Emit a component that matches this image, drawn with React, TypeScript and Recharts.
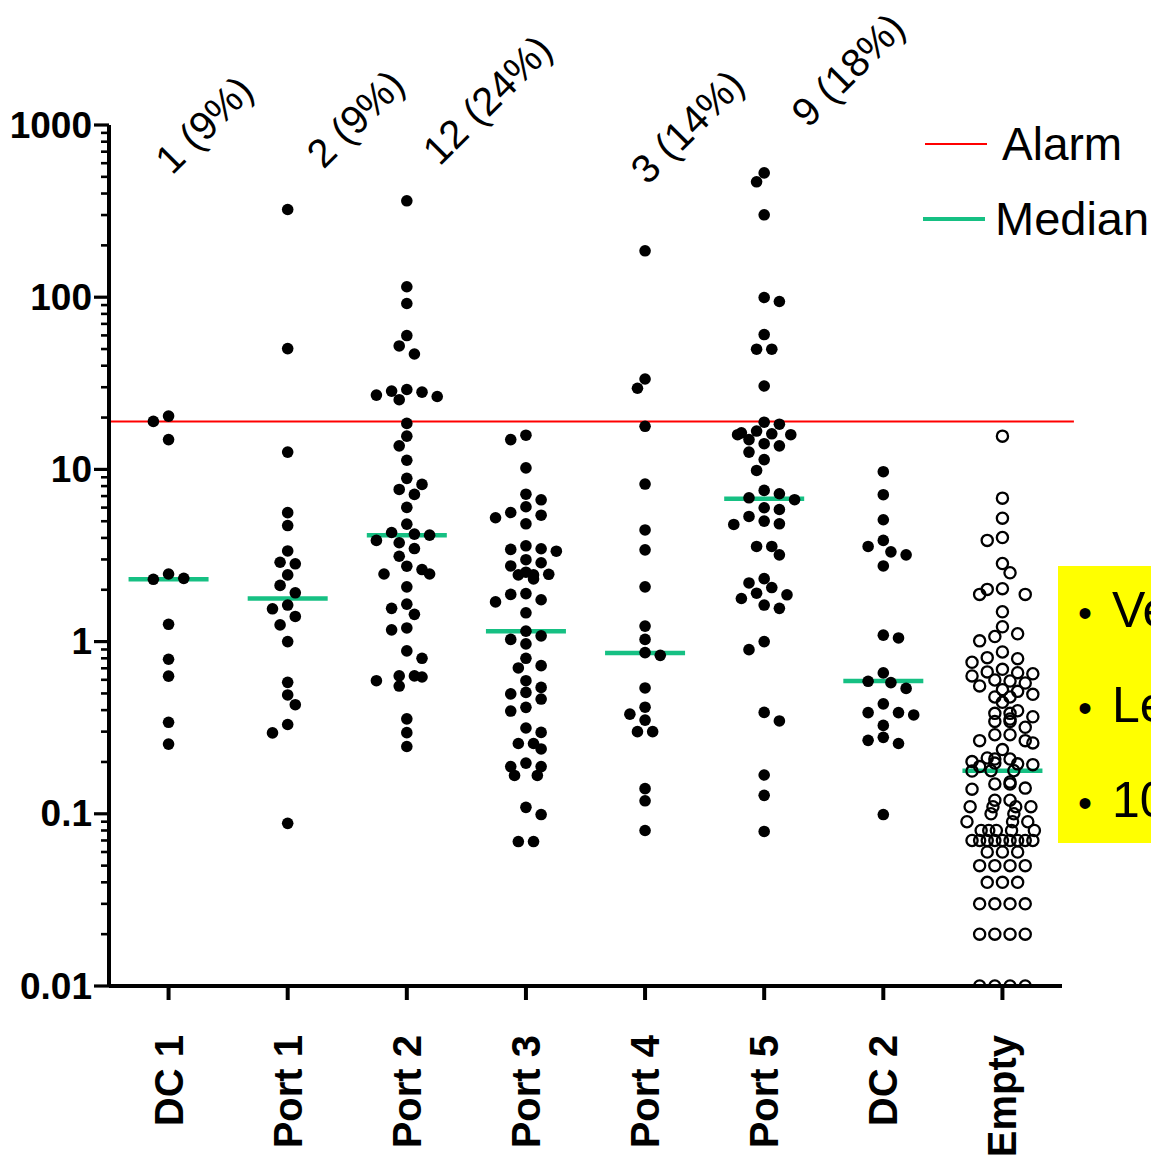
import React from 'react';
import { ScatterChart, Scatter, XAxis, YAxis, ReferenceLine, ReferenceDot, Legend } from 'recharts';

// ---------------- data ----------------
const categories = ['DC 1', 'Port 1', 'Port 2', 'Port 3', 'Port 4', 'Port 5', 'DC 2', 'Empty'];

const dc1 = [20.4, 19.0, 14.9, 2.47, 2.33, 2.30, 1.26, 0.79, 0.63, 0.34, 0.254];
const port1 = [323, 50.3, 12.6, 5.61, 4.72, 3.36, 2.89, 2.83, 2.44, 2.12, 1.92, 1.63, 1.55, 1.40, 1.25, 1.0,
  0.58, 0.49, 0.43, 0.33, 0.295, 0.088];
const port2 = [363, 115, 91.9, 59.9, 52.1, 46.8, 29.1, 28.5, 28.1, 27.0, 26.5, 25.4, 18.5, 15.6, 13.7, 11.3,
  8.87, 8.18, 7.65, 7.16, 6.02, 4.81, 4.30, 4.21, 4.15, 3.87, 3.75, 3.47, 3.13, 2.74, 2.62, 2.47, 2.47,
  2.08, 1.65, 1.56, 1.44, 1.20, 1.17, 0.883, 0.80, 0.632, 0.632, 0.623, 0.593, 0.552, 0.356, 0.296, 0.246];
const port3 = [15.8, 14.9, 10.2, 7.18, 6.66, 6.07, 5.62, 5.42, 5.24, 4.83, 3.60, 3.46, 3.43, 3.35, 2.99, 2.87,
  2.75, 2.53, 2.46, 2.44, 2.44, 2.31, 1.90, 1.88, 1.75, 1.70, 1.47, 1.15, 1.08, 1.03, 0.97, 0.80, 0.725,
  0.703, 0.593, 0.542, 0.507, 0.497, 0.464, 0.415, 0.395, 0.315, 0.297, 0.256, 0.256, 0.238, 0.197, 0.188,
  0.188, 0.167, 0.167, 0.109, 0.099, 0.069, 0.069];
const port4 = [186, 33.5, 29.6, 17.8, 8.22, 4.45, 3.41, 2.08, 1.23, 1.03, 0.863, 0.832, 0.538, 0.416, 0.379,
  0.350, 0.300, 0.300, 0.140, 0.119, 0.080];
const port5 = [527, 468, 301, 99.6, 94.4, 60.7, 49.9, 49.9, 30.5, 18.8, 18.3, 16.7, 16.3, 16.1, 15.9, 15.9,
  14.9, 14.1, 13.7, 12.6, 11.4, 9.86, 7.55, 7.22, 6.84, 6.67, 5.99, 5.85, 5.33, 5.01, 4.83, 4.79, 3.57,
  3.57, 3.19, 2.32, 2.19, 2.06, 1.91, 1.87, 1.78, 1.63, 1.56, 1.0, 0.898, 0.388, 0.346, 0.168, 0.128, 0.079];
const dc2 = [9.70, 7.13, 5.10, 3.87, 3.57, 3.32, 3.19, 2.75, 1.09, 1.05, 0.658, 0.588, 0.578, 0.535, 0.435,
  0.387, 0.387, 0.375, 0.326, 0.278, 0.267, 0.256, 0.099];
const empty = [15.6, 6.81, 5.21, 4.02, 3.87, 2.84, 2.51, 2.03, 2.01, 1.88, 1.88, 1.49, 1.22, 1.11, 1.07, 1.01,
  0.871, 0.807, 0.796, 0.758,
  0.69, 0.667, 0.66, 0.65, 0.632, 0.599, 0.59, 0.575, 0.553, 0.526, 0.514, 0.494, 0.477, 0.477, 0.444,
  0.397, 0.383, 0.383, 0.366, 0.355, 0.344, 0.344, 0.318, 0.288, 0.288, 0.266, 0.266, 0.258, 0.236,
  0.211, 0.208, 0.208, 0.201, 0.197, 0.195, 0.193, 0.188, 0.178, 0.178, 0.177,
  0.153, 0.149, 0.149, 0.141, 0.139,
  0.12, 0.12, 0.11, 0.11, 0.11, 0.11, 0.10, 0.10,
  0.09, 0.09, 0.09, 0.08, 0.08, 0.08, 0.08, 0.08,
  0.07, 0.07, 0.07, 0.07, 0.07, 0.07, 0.07, 0.07, 0.07,
  0.06, 0.06, 0.06, 0.05, 0.05, 0.05, 0.05, 0.04, 0.04, 0.04,
  0.03, 0.03, 0.03, 0.03, 0.02, 0.02, 0.02, 0.02, 0.01, 0.01, 0.01, 0.01];

const seriesValues = [dc1, port1, port2, port3, port4, port5, dc2, empty];
const medians = [2.3, 1.78, 4.15, 1.15, 0.86, 6.76, 0.59, 0.178];
const alarmLevel = 19;
const exceedLabels = ['1 (9%)', '2 (9%)', '12 (24%)', '', '3 (14%)', '9 (18%)', '', ''];
const yMajorTicks = [0.01, 0.1, 1, 10, 100, 1000];
const yTickLabels = ['0.01', '0.1', '1', '10', '100', '1000'];
const legendNames = ['Alarm', 'Median'];
const noteLines = ['Ve', 'Le', '10'];

// ---------------- layout ----------------
const CHART_W = 1151;
const CHART_H = 1162;
const MARGIN = { top: 125, right: 89, bottom: 0, left: 0 };
const Y_AXIS_W = 109;
const X_AXIS_H = 176;
const X_DOMAIN: [number, number] = [-0.5, 7.5];
const Y_DOMAIN: [number, number] = [0.01, 1000];
const PLOT_TOP = MARGIN.top;
const PLOT_BOTTOM = CHART_H - MARGIN.bottom - X_AXIS_H;
const PLOT_LEFT = MARGIN.left + Y_AXIS_W;
const PLOT_RIGHT = CHART_W - MARGIN.right;
const PX_PER_CAT = (PLOT_RIGHT - PLOT_LEFT) / (X_DOMAIN[1] - X_DOMAIN[0]);
const FONT = '"Liberation Sans", Arial, Helvetica, sans-serif';

// annotation anchors (category offset, value position on the log axis)
const annotationPos = [
  { dx: 0.03, y: 505 }, { dx: 0.3, y: 547 }, { dx: 0.275, y: 571 }, null,
  { dx: 0.02, y: 443 }, { dx: 0.37, y: 948 }, null, null,
];

const valueToPx = (v: number) => {
  const l1 = Math.log10(Y_DOMAIN[1]);
  const l0 = Math.log10(Y_DOMAIN[0]);
  return PLOT_TOP + ((l1 - Math.log10(v)) / (l1 - l0)) * (PLOT_BOTTOM - PLOT_TOP);
};

// beeswarm layout: greedy placement on a fixed horizontal step grid
function swarmOffsets(values: number[]): number[] {
  const STEP = 7.6;
  const DIST = 11.6;
  const MAXK = 4;
  const order = values.map((_, i) => i).sort((a, b) => values[b] - values[a]);
  const placed: { x: number; y: number }[] = [];
  const ks = new Array(values.length).fill(0);
  let flip = false;
  for (const i of order) {
    const y = valueToPx(values[i]);
    const clearance = (k: number) => {
      let m = Infinity;
      for (const p of placed) {
        const d = Math.hypot(k * STEP - p.x, y - p.y);
        if (d < m) m = d;
      }
      return m;
    };
    let chosen: number | null = null;
    for (let a = 0; a <= MAXK && chosen === null; a++) {
      const cands = a === 0 ? [0] : flip ? [a, -a] : [-a, a];
      const ok = cands.filter((k) => clearance(k) >= DIST);
      if (ok.length === 1) chosen = ok[0];
      else if (ok.length === 2) chosen = clearance(ok[0]) >= clearance(ok[1]) - 0.01 ? ok[0] : ok[1];
      if (chosen !== null && a > 0) flip = !flip;
    }
    if (chosen === null) {
      let best = 0;
      let bestC = -1;
      for (let k = -MAXK; k <= MAXK; k++) {
        const c = clearance(k);
        if (c > bestC + 0.01) { bestC = c; best = k; }
      }
      chosen = best;
    }
    placed.push({ x: chosen * STEP, y });
    ks[i] = chosen;
  }
  // centre groups of identical values so that tied rows sit symmetrically
  const groups = new Map<number, number[]>();
  values.forEach((v, i) => {
    const g = groups.get(v) ?? [];
    g.push(i);
    groups.set(v, g);
  });
  groups.forEach((idxs) => {
    if (idxs.length < 2) return;
    const mean = idxs.reduce((s, i) => s + ks[i], 0) / idxs.length;
    idxs.forEach((i) => { ks[i] -= mean; });
  });
  return ks.map((k) => (k * STEP) / PX_PER_CAT);
}

const seriesData = seriesValues.map((vals, ci) => {
  const offs = swarmOffsets(vals);
  return vals.map((v, j) => ({ x: ci + offs[j], y: v }));
});
const medianData = medians.map((m, i) => ({ x: i, y: m }));

const yAllTicks: number[] = [];
yMajorTicks.forEach((t, i) => {
  if (i === yMajorTicks.length - 1) { yAllTicks.push(t); return; }
  for (let k = 1; k <= 9; k++) yAllTicks.push(+(t * k).toPrecision(6));
});

// ---------------- renderers ----------------
const YTick = (props: any) => {
  const { x, y, payload } = props;
  const v = payload.value;
  const idx = yMajorTicks.findIndex((t) => Math.abs(Math.log10(t) - Math.log10(v)) < 1e-6);
  const major = idx >= 0;
  return (
    <g>
      <line x1={x - (major ? 15 : 8)} x2={x} y1={y} y2={y} stroke="#000" strokeWidth={major ? 3.2 : 2.6} />
      {major && (
        <text x={x - 17} y={y} textAnchor="end" dominantBaseline="central" fontSize={37}
          fontWeight="bold" fontFamily={FONT} fill="#000">
          {yTickLabels[idx]}
        </text>
      )}
    </g>
  );
};

const XTick = (props: any) => {
  const { x, y, payload } = props;
  const label = categories[payload.value] ?? '';
  const ty = y + 49;
  return (
    <g>
      <line x1={x} x2={x} y1={y} y2={y + 14} stroke="#000" strokeWidth={4} />
      <text x={x} y={ty} transform={`rotate(-90 ${x} ${ty})`} textAnchor="end" dominantBaseline="central"
        fontSize={40} fontWeight="bold" fontFamily={FONT} fill="#000">
        {label}
      </text>
    </g>
  );
};

const FilledDot = (p: any) => <circle cx={p.cx} cy={p.cy} r={5.8} fill="#000" />;
const OpenDot = (p: any) => <circle cx={p.cx} cy={p.cy} r={5.6} fill="none" stroke="#000" strokeWidth={2.3} />;
const MedianBar = (p: any) => (
  <line x1={p.cx - 40} x2={p.cx + 40} y1={p.cy} y2={p.cy} stroke="#16c083" strokeWidth={4.5} />
);

const LegendContent = () => (
  <div style={{ fontFamily: FONT, color: '#000' }}>
    <div style={{ position: 'relative', height: 75 }}>
      <div style={{ position: 'absolute', left: 0, top: 27, width: 62, height: 2, background: '#ff0000' }} />
      <div style={{ position: 'absolute', left: 77, top: 0, fontSize: 46, lineHeight: '56px' }}>{legendNames[0]}</div>
    </div>
    <div style={{ position: 'relative', height: 75 }}>
      <div style={{ position: 'absolute', left: -2, top: 26, width: 62, height: 4, background: '#16c083' }} />
      <div style={{ position: 'absolute', left: 70, top: 0, fontSize: 47, lineHeight: '56px' }}>{legendNames[1]}</div>
    </div>
  </div>
);

export default function App() {
  return (
    <div style={{ position: 'absolute', left: 0, top: 0, width: CHART_W, height: CHART_H, overflow: 'hidden', background: '#fff' }}>
      <ScatterChart width={CHART_W} height={CHART_H} margin={MARGIN}>
        <XAxis type="number" dataKey="x" domain={X_DOMAIN} ticks={[0, 1, 2, 3, 4, 5, 6, 7]} interval={0}
          height={X_AXIS_H} tick={<XTick />} tickLine={false} tickSize={0} tickMargin={0}
          axisLine={{ stroke: '#000', strokeWidth: 4 }} allowDataOverflow />
        <YAxis type="number" dataKey="y" scale="log" domain={Y_DOMAIN} ticks={yAllTicks} interval={0}
          width={Y_AXIS_W} tick={<YTick />} tickLine={false} tickSize={0} tickMargin={0}
          axisLine={{ stroke: '#000', strokeWidth: 4 }} allowDataOverflow />
        <Legend layout="vertical" align="center" verticalAlign="middle" content={<LegendContent />}
          wrapperStyle={{ position: 'absolute', left: 925, top: 116, width: 226 }} />
        <Scatter name="Median" data={medianData} shape={<MedianBar />} isAnimationActive={false} />
        {seriesData.map((d, i) => (
          <Scatter key={categories[i]} name={categories[i]} data={d}
            shape={i === 7 ? <OpenDot /> : <FilledDot />} isAnimationActive={false} />
        ))}
        <ReferenceLine segment={[{ x: X_DOMAIN[0], y: alarmLevel }, { x: 7.6, y: alarmLevel }]}
          stroke="#ff0000" strokeWidth={2} ifOverflow="visible" />
        {exceedLabels.map((t, i) => {
          const a = annotationPos[i];
          if (!t || !a) return null;
          return (
            <ReferenceDot key={'ann' + i} x={i + a.dx} y={a.y} r={0} ifOverflow="visible"
              shape={(p: any) => (
                <text x={p.cx} y={p.cy} transform={`rotate(-45 ${p.cx} ${p.cy})`} fontSize={40}
                  fontFamily={FONT} fill="#000">{t}</text>
              )} />
          );
        })}
      </ScatterChart>
      <div style={{ position: 'absolute', left: 1058, top: 566, width: 120, height: 277, background: '#ffff00',
        fontFamily: FONT, color: '#000' }}>
        {noteLines.map((t, i) => (
          <div key={t} style={{ position: 'absolute', left: 20, top: 16 + i * 95, fontSize: 50, lineHeight: '56px', whiteSpace: 'nowrap' }}>
            <span style={{ fontSize: 40 }}>•</span><span style={{ marginLeft: 20 }}>{t}</span>
          </div>
        ))}
      </div>
    </div>
  );
}
